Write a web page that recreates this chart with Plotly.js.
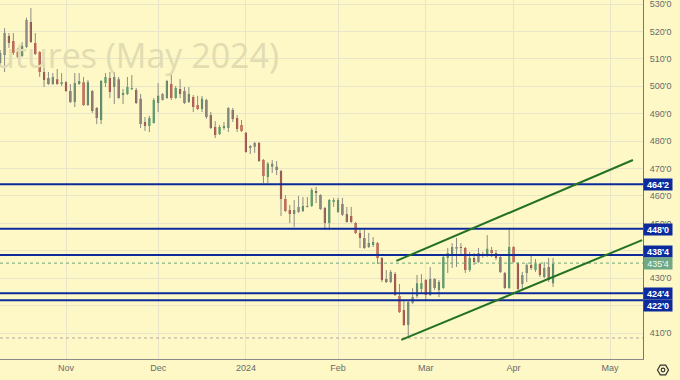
<!DOCTYPE html>
<html>
<head>
<meta charset="utf-8">
<script src="https://cdn.plot.ly/plotly-3.0.1.min.js"></script>
<style>html,body{margin:0;padding:0;background:#fdf8c5;}#chart{width:680px;height:380px;}</style>
</head>
<body>
<div id="chart"></div>
<script>
// ---- Data ----
const dates = [
'2023-10-11','2023-10-12','2023-10-13','2023-10-16','2023-10-17','2023-10-18','2023-10-19','2023-10-20','2023-10-23','2023-10-24','2023-10-25','2023-10-26','2023-10-27','2023-10-30','2023-10-31',
'2023-11-01','2023-11-02','2023-11-03','2023-11-06','2023-11-07','2023-11-08','2023-11-09','2023-11-10','2023-11-13','2023-11-14','2023-11-15','2023-11-16','2023-11-17','2023-11-20','2023-11-21','2023-11-22','2023-11-24','2023-11-27','2023-11-28','2023-11-29','2023-11-30',
'2023-12-01','2023-12-04','2023-12-05','2023-12-06','2023-12-07','2023-12-08','2023-12-11','2023-12-12','2023-12-13','2023-12-14','2023-12-15','2023-12-18','2023-12-19','2023-12-20','2023-12-21','2023-12-22','2023-12-26','2023-12-27','2023-12-28','2023-12-29',
'2024-01-02','2024-01-03','2024-01-04','2024-01-05','2024-01-08','2024-01-09','2024-01-10','2024-01-11','2024-01-12','2024-01-16','2024-01-17','2024-01-18','2024-01-19','2024-01-22','2024-01-23','2024-01-24','2024-01-25','2024-01-26','2024-01-29','2024-01-30','2024-01-31',
'2024-02-01','2024-02-02','2024-02-05','2024-02-06','2024-02-07','2024-02-08','2024-02-09','2024-02-12','2024-02-13','2024-02-14','2024-02-15','2024-02-16','2024-02-20','2024-02-21','2024-02-22','2024-02-23','2024-02-26','2024-02-27','2024-02-28','2024-02-29',
'2024-03-01','2024-03-04','2024-03-05','2024-03-06','2024-03-07','2024-03-08','2024-03-11','2024-03-12','2024-03-13','2024-03-14','2024-03-15','2024-03-18','2024-03-19','2024-03-20','2024-03-21','2024-03-22','2024-03-25','2024-03-26','2024-03-27','2024-03-28',
'2024-04-01','2024-04-02','2024-04-03','2024-04-04','2024-04-05','2024-04-08','2024-04-09','2024-04-10','2024-04-11','2024-04-12'];

const openP = [
508.5,511.4,518.3,516.5,512.5,511.0,514.3,523.4,515.8,512.5,505.2,503.0,500.8,502.6,500.8,
501.5,498.3,494.3,500.8,501.5,493.2,498.3,492.1,487.7,501.2,503.0,499.7,502.6,496.8,497.2,499.0,498.6,495.4,487.0,485.5,486.6,
493.9,495.0,495.7,500.8,495.7,499.0,498.3,494.3,496.1,493.2,491.7,495.0,489.5,485.1,482.6,484.8,484.8,491.3,488.4,485.9,
483.0,477.5,477.9,479.3,473.1,466.9,470.6,470.6,469.1,458.9,454.9,453.4,454.1,454.5,456.0,456.3,461.8,460.3,455.6,450.1,457.8,
454.1,457.1,453.4,452.7,450.1,446.5,444.7,441.4,442.1,442.8,437.4,429.7,428.6,431.5,423.5,418.4,412.9,421.0,423.5,426.1,
429.3,423.9,429.7,425.7,426.4,437.4,438.5,440.7,441.4,441.0,433.0,437.4,435.9,438.5,438.5,440.3,439.2,437.7,431.9,426.4,
441.4,435.5,427.9,431.9,434.8,433.0,435.2,430.4,434.1,428.2];
const highP = [
513.2,521.2,519.4,519.4,514.0,516.1,525.0,528.5,519.4,512.8,508.1,505.2,504.8,506.3,504.8,
501.9,500.8,504.8,504.8,503.4,502.3,498.6,492.4,502.3,504.8,505.2,505.2,503.4,499.0,503.4,504.1,499.4,497.2,488.8,489.2,495.7,
501.2,497.5,502.3,504.8,500.1,502.6,499.7,499.7,496.8,496.5,496.5,495.4,490.6,487.3,485.9,487.0,492.4,492.1,489.5,487.7,
483.3,478.6,479.7,479.7,473.5,472.4,473.1,472.7,469.5,460.3,456.7,458.5,460.0,459.6,459.6,462.9,463.3,460.6,456.0,458.9,459.3,
459.3,459.3,456.0,456.0,450.5,448.3,448.3,446.5,445.0,443.2,437.7,433.0,433.0,432.3,427.9,422.0,421.6,426.4,431.2,431.5,
429.7,434.1,430.0,429.3,438.1,441.0,442.8,444.7,442.8,441.4,439.6,439.2,441.0,439.6,445.7,441.4,440.3,438.1,432.3,448.3,
441.7,435.9,432.3,435.5,438.5,437.0,435.5,435.9,437.4,437.4];
const lowP = [
507.4,505.2,514.0,511.4,510.3,510.7,513.9,515.8,511.4,503.4,499.7,500.5,500.5,500.5,500.1,
497.9,493.9,492.4,500.5,492.8,492.8,490.3,486.2,486.2,499.7,495.7,493.5,495.4,493.5,496.8,498.6,493.5,484.8,483.7,483.3,486.4,
490.6,494.8,495.4,495.0,495.4,495.7,493.5,493.9,490.6,491.3,490.6,488.1,484.4,481.1,482.2,484.1,483.3,487.0,483.3,483.3,
475.7,475.3,475.7,472.4,464.7,464.7,468.4,467.6,452.7,454.1,450.1,448.7,453.8,454.1,455.8,456.0,457.4,454.9,447.6,447.6,456.0,
453.8,452.7,450.3,450.1,446.1,441.0,440.7,441.0,441.4,435.2,428.6,428.2,428.2,423.5,417.3,412.6,408.2,420.6,422.8,424.6,
422.0,423.5,425.7,423.1,426.1,431.9,433.7,434.1,438.8,431.9,432.3,434.8,435.5,437.4,437.7,437.7,436.6,431.9,426.1,426.1,
435.5,425.7,425.7,428.6,433.0,432.3,430.4,430.0,428.6,426.8];
const closeP = [
512.1,519.4,515.8,512.1,510.7,514.7,524.2,516.1,511.8,505.2,502.3,500.8,503.4,500.8,501.5,
498.3,494.3,501.2,501.9,493.2,501.5,491.0,488.4,501.9,503.4,497.9,503.4,495.7,497.5,499.7,499.4,493.9,486.2,485.5,488.4,495.0,
496.5,497.2,501.9,495.7,499.4,497.2,493.9,497.2,492.4,491.7,495.4,488.8,484.8,482.2,485.1,485.5,492.1,488.1,484.4,483.7,
476.0,478.2,479.3,472.7,467.3,471.7,471.7,469.5,458.9,454.5,453.4,454.9,456.0,456.3,456.3,462.2,461.1,455.2,450.1,458.5,458.5,
458.5,453.1,450.5,450.5,446.5,444.7,441.0,442.8,443.2,437.4,429.3,428.6,432.3,423.9,417.7,412.9,421.3,423.1,428.2,428.2,
423.9,429.7,426.4,428.6,437.7,439.2,441.4,441.4,441.0,433.0,437.4,435.9,439.2,438.8,440.7,439.2,437.4,432.3,426.4,441.4,
435.9,426.1,431.2,434.8,433.7,435.2,431.2,433.7,429.3,435.2];

const holidays = ['2023-11-23','2023-12-25','2024-01-01','2024-01-15','2024-02-19','2024-03-29'];
const monthTicks = ['2023-11-01','2023-12-01','2024-01-02','2024-02-01','2024-03-01','2024-04-01','2024-05-01'];
const monthLabels = ['Nov','Dec','2024','Feb','Mar','Apr','May'];
const priceTicks = [410,420,430,440,450,460,470,480,490,500,510,520,530];
// 420'0 and 440'0 sit fully behind the level labels in the reference, so they carry no visible text
const priceTickLabels = ["410'0","","430'0","","450'0","460'0","470'0","480'0","490'0","500'0","510'0","520'0","530'0"];

// horizontal levels and their labels
const levels = [464.25, 448.0, 438.5, 424.5, 422.0];
const levelLabels = ["464'2","448'0","438'4","424'4","422'0"];
const lastPrice = 435.5;
const lastPriceLabel = "435'4";
const lowLevel = 408.2;

// channel (trend) lines: [date, price] endpoints
const upperChannel = {x: ['2024-02-21 19:00','2024-05-08 17:00'], y: [436.3, 473.1]};
const lowerChannel = {x: ['2024-02-22 22:00','2024-05-10 19:00'], y: [407.5, 443.9]};

// ---- Build ----
const noon = d => d + ' 12:00';
const xs = dates.map(noon);

const wickX = [], wickY = [];
for (let i = 0; i < xs.length; i++) {
  wickX.push(xs[i], xs[i], null);
  wickY.push(highP[i], lowP[i], null);
}

const GREEN = '#3e8c5c', RED = '#a8302a';
const traces = [
  {type:'scatter', mode:'lines', x: wickX, y: wickY, line:{color:'#8c8c84', width:1}, hoverinfo:'skip', showlegend:false, connectgaps:false},
  {type:'candlestick', x: xs, open: openP, high: highP, low: lowP, close: closeP,
   increasing:{fillcolor:GREEN, line:{color:GREEN, width:0}},
   decreasing:{fillcolor:RED, line:{color:RED, width:0}},
   whiskerwidth:0, showlegend:false, hoverinfo:'skip'}
];

const NAVY = '#0c2a9c';
const shapes = [];
levels.forEach(v => shapes.push({type:'line', xref:'paper', x0:0, x1:1, yref:'y', y0:v, y1:v, line:{color:NAVY, width:2}}));
shapes.push({type:'line', xref:'paper', x0:0, x1:1, yref:'y', y0:lastPrice, y1:lastPrice, line:{color:'#6aa87c', width:1, dash:'dot'}});
shapes.push({type:'line', xref:'paper', x0:0, x1:1, yref:'y', y0:lowLevel, y1:lowLevel, line:{color:'#b8a6a0', width:1, dash:'dot'}});
[upperChannel, lowerChannel].forEach(c => shapes.push({type:'line', xref:'x', yref:'y', x0:c.x[0], x1:c.x[1], y0:c.y[0], y1:c.y[1], line:{color:'#237123', width:2}}));
// settings icon (hexagon) below the price scale
const px = v => v/643, py = v => (359 - v)/359;
shapes.push({type:'path', xref:'paper', yref:'paper', layer:'above',
  path:`M${px(657.5)},${py(370)} L${px(660.3)},${py(365.2)} L${px(665.7)},${py(365.2)} L${px(668.5)},${py(370)} L${px(665.7)},${py(374.8)} L${px(660.3)},${py(374.8)} Z`,
  line:{color:'#333', width:1.2}});
shapes.push({type:'circle', xref:'paper', yref:'paper', x0:px(661.2), x1:px(664.8), y0:py(368.2), y1:py(371.8), line:{color:'#333', width:1.2}});

const yshifts = [0, -1, 3, 0, -5];
const annotations = [];
levels.forEach((v, i) => annotations.push({
  xref:'paper', x:1, xanchor:'left', yref:'y', y:v, yanchor:'middle', yshift: yshifts[i],
  text:'<b>'+levelLabels[i]+'</b>', showarrow:false, bgcolor:NAVY, borderpad:1, width:26, height:9,
  font:{family:'Liberation Sans, Arial, sans-serif', size:9, color:'#ffffff'}, align:'center'}));
annotations.push({xref:'paper', x:1, xanchor:'left', yref:'y', y:lastPrice, yanchor:'middle', yshift:-0.5,
  text:lastPriceLabel, showarrow:false, bgcolor:'#6fa882', borderpad:1, width:26, height:9,
  font:{family:'Liberation Sans, Arial, sans-serif', size:9, color:'#f4fbf4'}, align:'center'});
// watermark
annotations.push({xref:'paper', yref:'paper', x:px(281), y:py(55), xanchor:'right', yanchor:'middle',
  text:'Corn Futures (May 2024)', showarrow:false,
  font:{family:'Open Sans, sans-serif', size:34, color:'#e2dcb2'}});

const layout = {
  width:680, height:380,
  margin:{l:0, r:37, t:0, b:21, pad:0},
  paper_bgcolor:'#fdf8c5', plot_bgcolor:'#fdf8c5',
  showlegend:false, dragmode:false,
  xaxis:{type:'date', range:['2023-10-11 11:00','2024-05-13 00:00'],
    rangebreaks:[{bounds:['sat','mon']},{values:holidays}],
    tickvals: monthTicks.map(noon), ticktext: monthLabels,
    showgrid:true, gridcolor:'#e9e5c8', gridwidth:1, zeroline:false,
    showline:true, linecolor:'#8a8a8a', linewidth:1, ticks:'',
    tickfont:{family:'Liberation Sans, Arial, sans-serif', size:9, color:'#6a6a6a'},
    rangeslider:{visible:false}, fixedrange:true},
  yaxis:{side:'right', range:[400.53, 531.46], tickvals:priceTicks, ticktext:priceTickLabels,
    showgrid:true, gridcolor:'#e9e5c8', gridwidth:1, zeroline:false,
    showline:true, linecolor:'#777777', linewidth:1, ticks:'', ticklabelstandoff:4,
    ticklabeloverflow:'allow',
    tickfont:{family:'Liberation Sans, Arial, sans-serif', size:9, color:'#6a6a6a'}, fixedrange:true},
  shapes: shapes,
  annotations: annotations
};

Plotly.newPlot('chart', traces, layout, {displayModeBar:false, staticPlot:true});
</script>
</body>
</html>
